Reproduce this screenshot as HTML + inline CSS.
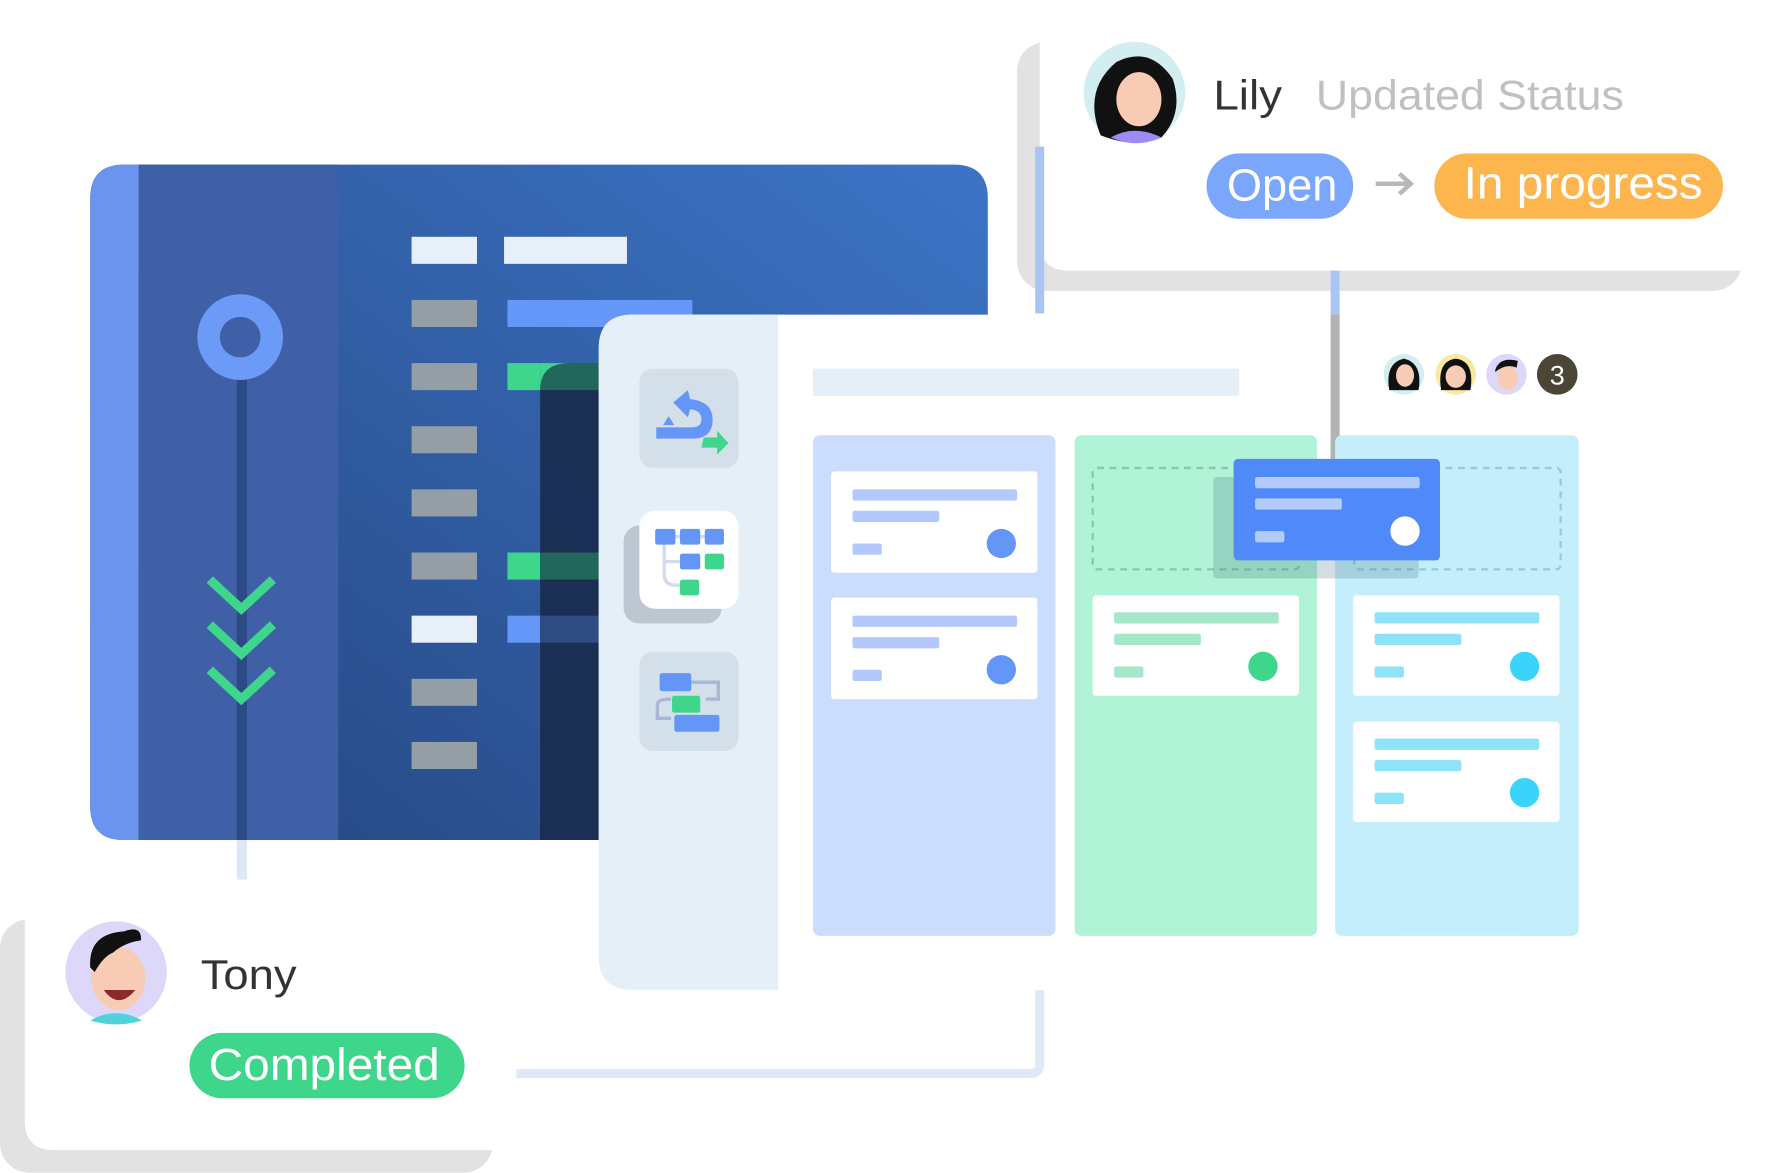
<!DOCTYPE html>
<html><head><meta charset="utf-8"><style>
html,body{margin:0;padding:0;background:#fff;}
svg{display:block;}
text{font-family:"Liberation Sans",sans-serif;}
</style></head><body>
<svg width="1767" height="1173" viewBox="0 0 1567 1040.3" preserveAspectRatio="none" xmlns="http://www.w3.org/2000/svg">
<defs>
<linearGradient id="g1" x1="0" y1="1" x2="1" y2="0">
<stop offset="0" stop-color="#25457f"/><stop offset="1" stop-color="#3c74c6"/>
</linearGradient>
</defs>
<rect width="1567" height="1041" fill="#fff"/>

<rect x="902" y="37" width="643" height="221" rx="26" fill="#e2e2e2"/>
<path d="M922 0 H1567 V240 H948 Q922 240 922 214 Z" fill="#fff"/>
<rect x="918" y="130" width="8" height="148" fill="#a9c5f3"/>
<rect x="1180" y="240" width="8" height="40" fill="#a9c5f3"/>
<circle cx="1006" cy="82" r="45" fill="#d3eef1"/>
<path d="M976 120 Q960 80 990 55 Q1020 40 1040 70 Q1050 100 1030 122 Q1006 132 976 120Z" fill="#111"/>
<ellipse cx="1010" cy="88" rx="20" ry="24" fill="#f8cbb5"/>
<path d="M990 70 Q1010 55 1032 72 L1030 66 Q1010 48 988 66Z" fill="#111"/>
<path d="M985 122 Q1006 110 1030 122 Q1008 132 985 122Z" fill="#9b8cf5"/>
<text x="1076" y="97" font-size="37" fill="#333" textLength="61" lengthAdjust="spacingAndGlyphs">Lily</text>
<text x="1167" y="97" font-size="37" fill="#c0c0c0" textLength="273" lengthAdjust="spacingAndGlyphs">Updated Status</text>
<rect x="1070" y="136" width="130" height="58" rx="29" fill="#7aa6fb"/>
<text x="1088" y="178" font-size="40" fill="#fff" textLength="98" lengthAdjust="spacingAndGlyphs">Open</text>
<path d="M1220 163 H1250 M1241 154 L1251 163 L1241 172" stroke="#b8b8b8" stroke-width="4" fill="none"/>
<rect x="1272" y="136" width="256" height="58" rx="29" fill="#fdb64e"/>
<text x="1298" y="176" font-size="40" fill="#fff" textLength="212" lengthAdjust="spacingAndGlyphs">In progress</text>

<path d="M110 146 H846 Q876 146 876 176 V745 H110 Q80 745 80 715 V176 Q80 146 110 146Z" fill="url(#g1)"/>
<path d="M110 146 H123 V745 H110 Q80 745 80 715 V176 Q80 146 110 146Z" fill="#6a94ee"/>
<rect x="123" y="146" width="177" height="599" fill="#3f5fa6"/>
<rect x="210" y="330" width="9" height="415" fill="#2b4a86"/>
<rect x="210" y="745" width="9" height="35" fill="#dde7f5"/>
<circle cx="213" cy="299" r="28" fill="none" stroke="#6b9af7" stroke-width="20"/>
<path d="M186 514 L214 540 L242 514 M186 554 L214 580 L242 554 M186 594 L214 620 L242 594" stroke="#3dd68b" stroke-width="8" fill="none"/>
<g fill="#949ea5">
<rect x="365" y="266" width="58" height="24"/><rect x="365" y="322" width="58" height="24"/>
<rect x="365" y="378" width="58" height="24"/><rect x="365" y="434" width="58" height="24"/>
<rect x="365" y="490" width="58" height="24"/><rect x="365" y="602" width="58" height="24"/>
<rect x="365" y="658" width="58" height="24"/>
</g>
<rect x="365" y="210" width="58" height="24" fill="#e7eff8"/>
<rect x="365" y="546" width="58" height="24" fill="#e7eff8"/>
<rect x="447" y="210" width="109" height="24" fill="#e7eff8"/>
<rect x="450" y="266" width="164" height="24" fill="#6497f8"/>
<rect x="450" y="322" width="81" height="24" fill="#3dd68b"/>
<rect x="450" y="490" width="81" height="24" fill="#3dd68b"/>
<rect x="450" y="546" width="81" height="24" fill="#6497f8"/>
<path d="M505 322 H531 V745 H479 V348 Q479 322 505 322Z" fill="#1a2b4f" opacity="0.93"/>
<rect x="479" y="322" width="52" height="24" fill="#21675a"/>
<path d="M505 322 H479 V346 Q479 322 505 322Z" fill="#3dd68b"/>
<rect x="479" y="490" width="52" height="24" fill="#21675a"/>
<rect x="479" y="546" width="52" height="24" fill="#2f4c82"/>

<path d="M561 279 H1567 V878 H561 Q531 878 531 848 V309 Q531 279 561 279Z" fill="#fff"/>
<path d="M561 279 H690 V878 H561 Q531 878 531 848 V309 Q531 279 561 279Z" fill="#e4eff7"/>
<rect x="1180" y="279" width="8" height="131" fill="#b3b3b3"/>
<path d="M922 878 V944 Q922 952 914 952 H458" stroke="#dfe8f5" stroke-width="8" fill="none"/>
<rect x="567" y="327" width="88" height="88" rx="12" fill="#d3e0ea"/>
<path d="M597 357 L610 346 L612 354 Q632 356 632 372 Q632 389 614 389 H582 V379 H613 Q622 379 622 372 Q622 364 612 363 L610 370Z" fill="#6496f8"/>
<path d="M593 369 L598 377 L588 377Z" fill="#6496f8"/>
<path d="M624 388 L636 388 L636 382 L646 393 L636 403 L636 397 L622 397Z" fill="#3dd68b"/>
<rect x="553" y="466" width="87" height="87" rx="14" fill="#bcc7d2"/>
<rect x="567" y="453" width="88" height="87" rx="14" fill="#fff"/>
<path d="M589 481 V509 Q589 519 599 519 H605 M589 498 H604 M598 476 H630" stroke="#d2dcec" stroke-width="3" fill="none"/>
<g fill="#6496f8"><rect x="581" y="469" width="18" height="14" rx="2"/><rect x="603" y="469" width="18" height="14" rx="2"/><rect x="625" y="469" width="17" height="14" rx="2"/><rect x="603" y="491" width="18" height="14" rx="2"/></g>
<g fill="#3dd68b"><rect x="625" y="491" width="17" height="14" rx="2"/><rect x="603" y="514" width="17" height="14" rx="2"/></g>
<rect x="567" y="578" width="88" height="88" rx="12" fill="#d3e0ea"/>
<path d="M612 605 H637 V620 H626 M595 620 Q583 620 583 625 V637 H595" stroke="#a8b7d6" stroke-width="3" fill="none"/>
<rect x="585" y="597" width="28" height="16" rx="2" fill="#6496f8"/>
<rect x="596" y="617" width="25" height="15" rx="2" fill="#3dd68b"/>
<rect x="598" y="634" width="40" height="15" rx="2" fill="#6496f8"/>
<rect x="721" y="327" width="378" height="24" fill="#e4eff7"/>

<rect x="721" y="386" width="215" height="444" rx="6" fill="#ccdcfc"/>
<rect x="953" y="386" width="215" height="444" rx="6" fill="#b0f3d6"/>
<rect x="1184" y="386" width="216" height="444" rx="6" fill="#c4eefb"/>
<g>
<rect x="737" y="418" width="183" height="90" rx="3" fill="#fff"/>
<rect x="756" y="434" width="146" height="10" rx="2" fill="#b4c9fb"/><rect x="756" y="453" width="77" height="10" rx="2" fill="#b4c9fb"/><rect x="756" y="482" width="26" height="10" rx="2" fill="#b4c9fb"/>
<circle cx="888" cy="482" r="13" fill="#6496f8"/>
<rect x="737" y="530" width="183" height="90" rx="3" fill="#fff"/>
<rect x="756" y="546" width="146" height="10" rx="2" fill="#b4c9fb"/><rect x="756" y="565" width="77" height="10" rx="2" fill="#b4c9fb"/><rect x="756" y="594" width="26" height="10" rx="2" fill="#b4c9fb"/>
<circle cx="888" cy="594" r="13" fill="#6496f8"/>
</g>
<rect x="969" y="528" width="183" height="89" rx="3" fill="#fff"/>
<rect x="988" y="543" width="146" height="10" rx="2" fill="#a6e6c9"/><rect x="988" y="562" width="77" height="10" rx="2" fill="#a6e6c9"/><rect x="988" y="591" width="26" height="10" rx="2" fill="#a6e6c9"/>
<circle cx="1120" cy="591" r="13" fill="#3dd68b"/>
<rect x="1200" y="528" width="183" height="89" rx="3" fill="#fff"/>
<rect x="1219" y="543" width="146" height="10" rx="2" fill="#8fe3f8"/><rect x="1219" y="562" width="77" height="10" rx="2" fill="#8fe3f8"/><rect x="1219" y="591" width="26" height="10" rx="2" fill="#8fe3f8"/>
<circle cx="1352" cy="591" r="13" fill="#3ad4fb"/>
<rect x="1200" y="640" width="183" height="89" rx="3" fill="#fff"/>
<rect x="1219" y="655" width="146" height="10" rx="2" fill="#8fe3f8"/><rect x="1219" y="674" width="77" height="10" rx="2" fill="#8fe3f8"/><rect x="1219" y="703" width="26" height="10" rx="2" fill="#8fe3f8"/>
<circle cx="1352" cy="703" r="13" fill="#3ad4fb"/>
<rect x="969" y="415" width="183" height="90" rx="4" fill="none" stroke="#86c9a9" stroke-width="2" stroke-dasharray="6 5"/>
<rect x="1201" y="415" width="183" height="90" rx="4" fill="none" stroke="#95c9db" stroke-width="2" stroke-dasharray="6 5"/>
<rect x="1076" y="423" width="182" height="90" rx="3" fill="#3a6a78" opacity="0.22"/>
<rect x="1094" y="407" width="183" height="90" rx="4" fill="#5089f8"/>
<rect x="1113" y="423" width="146" height="10" rx="2" fill="#b3cbfb"/><rect x="1113" y="442" width="77" height="10" rx="2" fill="#b3cbfb"/><rect x="1113" y="471" width="26" height="10" rx="2" fill="#b3cbfb"/>
<circle cx="1246" cy="471" r="13" fill="#fff"/>
<circle cx="1245" cy="332" r="18" fill="#d3eef1"/><path d="M1232 346 Q1228 322 1245 318 Q1262 322 1258 346Z" fill="#111"/><ellipse cx="1246" cy="333" rx="8" ry="10" fill="#f8cbb5"/>
<circle cx="1291" cy="332" r="18" fill="#fde8a0"/><path d="M1278 346 Q1274 320 1291 318 Q1308 320 1304 346Z" fill="#111"/><ellipse cx="1291" cy="334" rx="9" ry="10" fill="#f8cbb5"/>
<circle cx="1336" cy="332" r="18" fill="#ddd8fa"/><ellipse cx="1337" cy="335" rx="9" ry="11" fill="#f8cbb5"/><path d="M1326 328 Q1330 316 1346 320 L1345 326 Q1335 322 1326 330Z" fill="#111"/>
<circle cx="1381" cy="332" r="18" fill="#4b4536"/>
<text x="1381" y="341" font-size="24" fill="#fff" text-anchor="middle">3</text>

<rect x="0" y="815" width="437" height="225" rx="26" fill="#e2e2e2"/>
<path d="M22 800 H440 V1020 H48 Q22 1020 22 994 Z" fill="#fff"/>
<circle cx="103" cy="862" r="45" fill="#ddd8fa"/>
<ellipse cx="105" cy="868" rx="24" ry="28" fill="#f8cbb5"/>
<path d="M80 858 Q78 828 110 826 Q126 820 125 834 Q110 836 100 845 Q92 848 84 862Z" fill="#111"/>
<path d="M92 878 Q105 896 120 878Z" fill="#8a2a2a"/>
<path d="M80 905 Q103 892 126 905 Q103 912 80 905Z" fill="#4fd3d8"/>
<text x="178" y="877" font-size="37" fill="#333" textLength="85" lengthAdjust="spacingAndGlyphs">Tony</text>
<rect x="168" y="916" width="244" height="58" rx="29" fill="#3dd68b"/>
<text x="185" y="958" font-size="40" fill="#fff" textLength="205" lengthAdjust="spacingAndGlyphs">Completed</text>
</svg>
</body></html>
